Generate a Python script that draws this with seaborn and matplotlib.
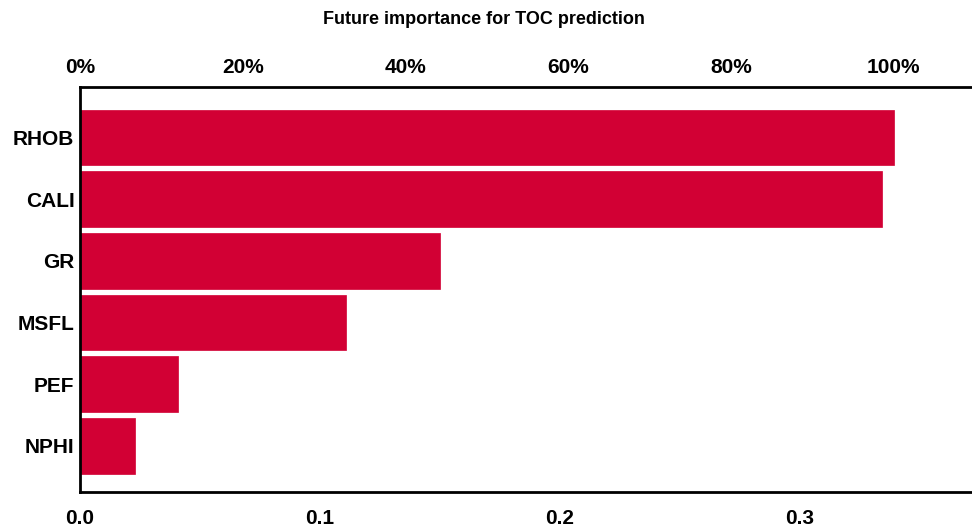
import matplotlib
matplotlib.use('Agg')
import matplotlib.pyplot as plt
import seaborn as sns
import pandas as pd

# feature importance values
features = ['RHOB', 'CALI', 'GR', 'MSFL', 'PEF', 'NPHI']
importance = [0.339, 0.334, 0.150, 0.111, 0.041, 0.023]
bottom_ticks = [0.0, 0.1, 0.2, 0.3]
top_ticks = [0, 20, 40, 60, 80, 100]

df = pd.DataFrame({'feature': features, 'importance': importance})
max_imp = max(importance)

sns.set_style('white')
plt.rcParams['font.family'] = ['Liberation Sans', 'DejaVu Sans']
plt.rcParams['text.color'] = 'black'
plt.rcParams['xtick.color'] = 'black'
plt.rcParams['ytick.color'] = 'black'

fig = plt.figure(figsize=(9.72, 5.28), dpi=100)
ax = fig.add_axes([80 / 972, 36 / 528, 892 / 972, 405 / 528])

sns.barplot(data=df, x='importance', y='feature', color='#D20034', width=0.9,
            saturation=1, ax=ax, edgecolor='#D20034', linewidth=0.5)

ax.set_xlim(0, 892 / 2400)
ax.set_ylim(5.75, -0.82)
ax.set_xticks(bottom_ticks)
ax.set_xticklabels([f'{t:.1f}' for t in bottom_ticks], fontsize=15, fontweight='bold')
ax.set_yticklabels(features, fontsize=15, fontweight='bold')
ax.tick_params(axis='y', length=0, pad=4)
ax.tick_params(axis='x', length=0, pad=12)
ax.set_xlabel('')
ax.set_ylabel('')

for side in ['top', 'left', 'bottom']:
    ax.spines[side].set_visible(True)
    ax.spines[side].set_color('black')
    ax.spines[side].set_linewidth(2)
ax.spines['right'].set_visible(False)

top = ax.secondary_xaxis('top', functions=(lambda x: x / max_imp * 100,
                                           lambda p: p * max_imp / 100))
top.set_xticks(top_ticks)
top.set_xticklabels([f'{t}%' for t in top_ticks], fontsize=15, fontweight='bold')
top.tick_params(length=0, pad=7)
top.spines['top'].set_visible(False)

fig.text(484 / 972, 1 - 20 / 528, 'Future importance for TOC prediction',
         fontsize=13, fontweight='bold', ha='center', va='center')

fig.savefig('out.png', dpi=100)
